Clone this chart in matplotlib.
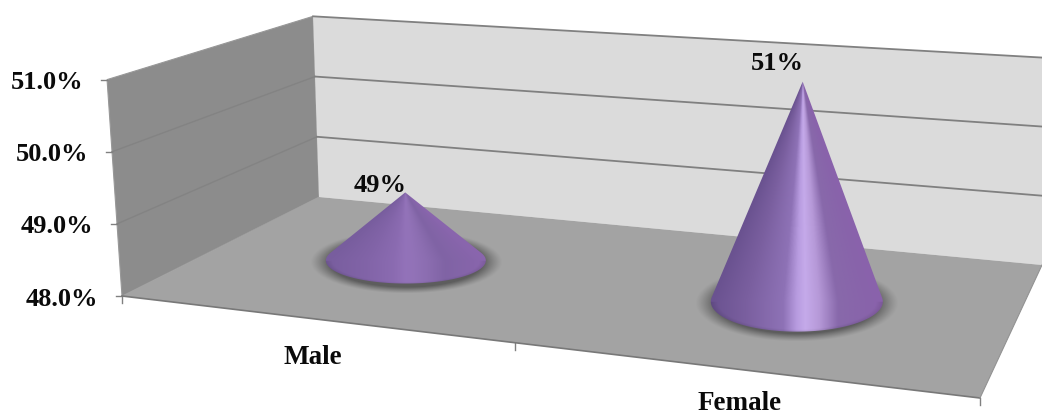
import numpy as np
import matplotlib
matplotlib.use('Agg')
import matplotlib.pyplot as plt
from matplotlib.colors import LinearSegmentedColormap
from matplotlib.patches import Polygon

plt.rcParams['font.family'] = ['Liberation Serif', 'DejaVu Serif']

# chart data
categories = ['Male', 'Female']
values = [49, 51]
value_labels = ['49%', '51%']
axis_ticks = [48, 49, 50, 51]
axis_tick_labels = ['48.0%', '49.0%', '50.0%', '51.0%']

# floor corners in pixels, then the vertical vanishing point
FL, FR, BR, BL = (122, 296), (980, 398), (1042, 265), (319, 197)
VP = np.array([503.0, 5812.0])
UNIT_FRONT_LEFT = 72.3

# cone shape and label placement
CATEGORY_U = [0.252, 0.752]
BASE_DEPTH = 0.5
BASE_RX = [80, 86]
BASE_RY = [23, 30]
HIGHLIGHT = [0.12, 1.0]
CONE_LEAN = 0.5
LABEL_DY = [-7, -18]
CATEGORY_DY = [45, 41]
TEXT_COLOR = '#0a0a0a'


def make_homography(src, dst):
    A, b = [], []
    for (u, v), (x, y) in zip(src, dst):
        A.append([u, v, 1, 0, 0, 0, -u * x, -v * x])
        A.append([0, 0, 0, u, v, 1, -u * y, -v * y])
        b += [x, y]
    return np.append(np.linalg.solve(np.array(A, float), np.array(b, float)), 1).reshape(3, 3)


H = make_homography([(0, 0), (1, 0), (1, 1), (0, 1)], [FL, FR, BR, BL])
k_scale = UNIT_FRONT_LEFT * (H @ [0, 0, 1])[2]


def floor_pt(u, v):
    p = H @ [u, v, 1]
    return p[:2] / p[2]


def lift(u, v, val):
    # raise a floor point to a value on the axis, along the converging verticals
    base = floor_pt(u, v)
    w = (H @ [u, v, 1])[2]
    px = (val - axis_ticks[0]) * k_scale / w
    d = base - VP
    return base + d / np.linalg.norm(d) * px


fig = plt.figure(figsize=(10.42, 4.16), dpi=100)
ax = fig.add_axes([0, 0, 1, 1])


def fill_gradient(poly, rgba, extent, z):
    patch = Polygon(poly, closed=True, transform=ax.transData, fc='none', ec='none')
    ax.add_patch(patch)
    im = ax.imshow(rgba, extent=extent, origin='upper', aspect='auto', zorder=z, interpolation='bilinear')
    im.set_clip_path(patch)


top = axis_ticks[-1]
left_wall = [floor_pt(0, 0), lift(0, 0, top), lift(0, 1, top), floor_pt(0, 1)]
back_wall = [floor_pt(0, 1), lift(0, 1, top), lift(1, 1, top), floor_pt(1, 1)]
floor = [floor_pt(0, 0), floor_pt(1, 0), floor_pt(1, 1), floor_pt(0, 1)]

ax.add_patch(Polygon(left_wall, fc='#8c8c8c', ec='#989898', lw=0.8, zorder=1))
ax.add_patch(Polygon(back_wall, fc='#dbdbdb', ec='none', zorder=1))
ax.add_patch(Polygon(floor, fc='#a3a3a3', ec='none', zorder=2))

# gridlines on both walls
for val in axis_ticks[1:]:
    a, b, c = lift(0, 0, val), lift(0, 1, val), lift(1, 1, val)
    if val != top:
        ax.plot([a[0], b[0]], [a[1], b[1]], color='#838383', lw=1, zorder=1.5)
    ax.plot([b[0], c[0]], [b[1], c[1]], color='#808080', lw=1.3, zorder=1.5)

# floor edges
ax.plot([floor[0][0], floor[1][0]], [floor[0][1], floor[1][1]], color='#787878', lw=1.2, zorder=2.2)
ax.plot([floor[1][0], floor[2][0]], [floor[1][1], floor[2][1]], color='#929292', lw=0.8, zorder=2.2)

# value axis ticks and labels
for val, lab in zip(axis_ticks, axis_tick_labels):
    p = lift(0, 0, val)
    ax.plot([p[0] - 6, p[0]], [p[1], p[1]], color='#808080', lw=1, zorder=2)
    ax.text(p[0] - 24, p[1] + 3, lab, ha='right', va='center', fontsize=19, fontweight='bold', color=TEXT_COLOR)

# category axis ticks
for u in [0, 0.5, 1]:
    p = floor_pt(u, 0)
    ax.plot([p[0], p[0]], [p[1], p[1] + 7], color='#808080', lw=1, zorder=2)

shade = LinearSegmentedColormap.from_list('shade', [
    (0.00, '#6a5290'), (0.20, '#7a5f9f'), (0.42, '#8e72b6'), (0.50, '#b89ce0'),
    (0.55, '#c5aaea'), (0.63, '#b699d8'), (0.74, '#8869ab'), (0.90, '#8864aa'), (1.00, '#8a62ac')])
flat = LinearSegmentedColormap.from_list('flat', [
    (0.00, '#7a5fa0'), (0.25, '#8264a8'), (0.50, '#8e6db4'), (0.75, '#7f63a4'), (1.00, '#8a66ae')])

# cones, one for each category
for i, (cat, val, lab) in enumerate(zip(categories, values, value_labels)):
    u = CATEGORY_U[i]
    cx, cy = floor_pt(u, BASE_DEPTH)
    tip = lift(u, BASE_DEPTH, val)
    tip_x, tip_y = cx + (tip[0] - cx) * CONE_LEAN, tip[1]
    rx, ry = BASE_RX[i], BASE_RY[i]

    # soft shadow round the base
    gx, gy = np.meshgrid(np.arange(cx - rx - 30, cx + rx + 30), np.arange(cy - ry - 20, cy + ry + 20))
    d = np.sqrt(((gx - cx) / (rx + 16)) ** 2 + ((gy - cy - 1) / (ry + 9)) ** 2)
    halo = np.zeros(gx.shape + (4,))
    halo[..., :3] = 0.30
    halo[..., 3] = 0.8 * np.clip((1 - d) / 0.2, 0, 1) ** 1.2
    halo_clip = Polygon(floor, fc='none', ec='none')
    ax.add_patch(halo_clip)
    im = ax.imshow(halo, extent=(gx.min(), gx.max(), gy.max(), gy.min()), origin='upper', aspect='auto', zorder=3)
    im.set_clip_path(halo_clip)

    # outline: tangents from the tip plus the near part of the base ellipse
    over = np.arcsin(ry / (cy - tip_y))
    ang = np.linspace(-over, np.pi + over, 100)
    rim_pts = np.column_stack([cx + rx * np.cos(ang), cy + ry * np.sin(ang)])
    outline = np.vstack([[[tip_x, tip_y]], rim_pts])

    gx, gy = np.meshgrid(np.linspace(cx - rx - 2, cx + rx + 2, 400), np.linspace(tip_y - 1, cy + ry + 2, 400))
    frac = np.clip((gy - tip_y) / (cy - tip_y), 0.01, 1)
    line_x = tip_x + (cx - tip_x) * frac
    t = np.clip((gx - line_x) / (rx * frac) * 0.5 + 0.5, 0, 1)
    rgba = HIGHLIGHT[i] * shade(t) + (1 - HIGHLIGHT[i]) * flat(t)
    # slightly darker rim along the near edge of the base
    edge = np.sqrt(((gx - cx) / rx) ** 2 + ((gy - cy) / ry) ** 2)
    rim = np.where(gy > cy, np.clip((edge - 0.92) / 0.08, 0, 1), 0) * 0.10
    rgba[..., :3] *= (1 - rim)[..., None]
    fill_gradient(outline, rgba, (gx.min(), gx.max(), gy.max(), gy.min()), 4)

    ax.text(tip_x - 25, tip_y + LABEL_DY[i], lab, ha='center', va='center', fontsize=19, fontweight='bold', color=TEXT_COLOR, zorder=5)

    p = floor_pt(u, 0)
    ax.text(p[0], p[1] + CATEGORY_DY[i], cat, ha='center', va='baseline', fontsize=19.5, fontweight='bold', color=TEXT_COLOR, zorder=5)

ax.set_xlim(0, 1042)
ax.set_ylim(416, 0)
ax.axis('off')
fig.savefig('out.png', dpi=100)
